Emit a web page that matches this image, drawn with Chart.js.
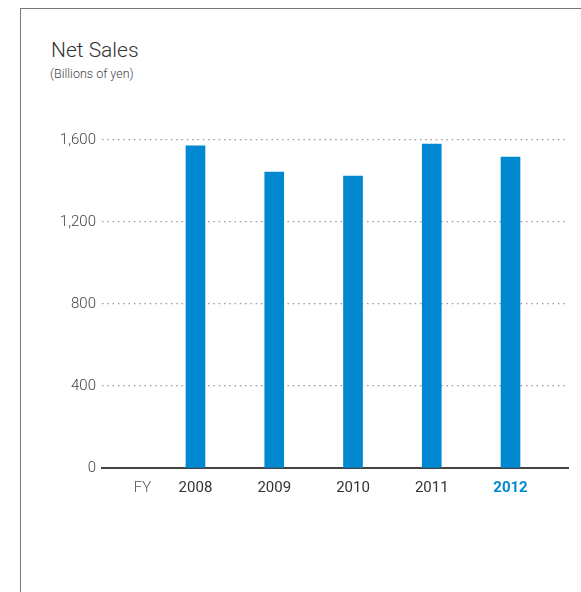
<!DOCTYPE html>
<html>
<head>
<meta charset="utf-8">
<script src="https://cdn.jsdelivr.net/npm/chart.js@4.4.1/dist/chart.umd.min.js"></script>
<style>
  html, body { margin:0; padding:0; background:#fff; }
  #wrap { position:relative; width:581px; height:592px; overflow:hidden; }
  #frame { position:absolute; left:20px; top:8px; right:0; bottom:-2px; border-top:1px solid #777; border-left:1px solid #777; }
  #title { position:absolute; left:51px; top:40px; font-family:Roboto, "Liberation Sans", sans-serif; font-weight:300; font-size:21px; line-height:1; color:#333; }
  #subtitle { position:absolute; left:50px; top:68px; font-family:Roboto, "Liberation Sans", sans-serif; font-weight:300; font-size:12.5px; line-height:1; color:#444; }
  canvas { position:absolute; left:0; top:0; }
</style>
</head>
<body>
<div id="wrap">
  <div id="frame"></div>
  <div id="title">Net Sales</div>
  <div id="subtitle">(Billions of yen)</div>
  <canvas id="c" width="581" height="592"></canvas>
</div>
<script>
const categories = ['2008', '2009', '2010', '2011', '2012'];
const netSales = [1572, 1444, 1424, 1580, 1517];
const yTicks = [0, 400, 800, 1200, 1600];
const fyLabel = 'FY';

const BLUE = '#0089d1';
const FONT = 'Roboto, "Liberation Sans", sans-serif';

new Chart(document.getElementById('c'), {
  type: 'bar',
  data: {
    datasets: [{
      data: netSales.map((v, i) => ({ x: i, y: v })),
      backgroundColor: BLUE,
      barThickness: 19
    }]
  },
  options: {
    responsive: false,
    animation: false,
    devicePixelRatio: 1,
    layout: { padding: { top: 140, right: 13, left: 0, bottom: 0 } },
    plugins: { legend: { display: false }, tooltip: { enabled: false }, title: { display: false } },
    scales: {
      x: {
        type: 'linear',
        offset: false,
        min: -1.187,
        max: 4.73,
        grid: { display: false, drawTicks: false, offset: false },
        border: { display: true, color: '#444', width: 2 },
        afterBuildTicks: s => {
          s.ticks = [{ value: -0.673 }].concat(categories.map((c, i) => ({ value: i })));
        },
        afterFit: s => { s.height = 124; },
        ticks: {
          autoSkip: false,
          maxRotation: 0,
          padding: 11,
          callback: (v, i) => (i === 0 ? fyLabel : categories[i - 1]),
          color: ctx => (ctx.index === 0 ? '#555' : (ctx.index === categories.length ? BLUE : '#333')),
          font: ctx => ({ family: FONT, size: 15, weight: ctx.index === categories.length ? 'bold' : (ctx.index === 0 ? '300' : 'normal') })
        }
      },
      y: {
        min: 0,
        max: 1600,
        afterBuildTicks: s => { s.ticks = yTicks.map(v => ({ value: v })); },
        afterFit: s => { s.width = 102; },
        grid: { color: '#999', lineWidth: 1.3, drawTicks: false },
        border: { display: false, dash: [1.5, 3.8] },
        ticks: {
          padding: 6,
          color: '#444',
          font: { family: FONT, size: 15, weight: '300' },
          callback: v => v.toLocaleString('en-US')
        }
      }
    }
  }
});
</script>
</body>
</html>
